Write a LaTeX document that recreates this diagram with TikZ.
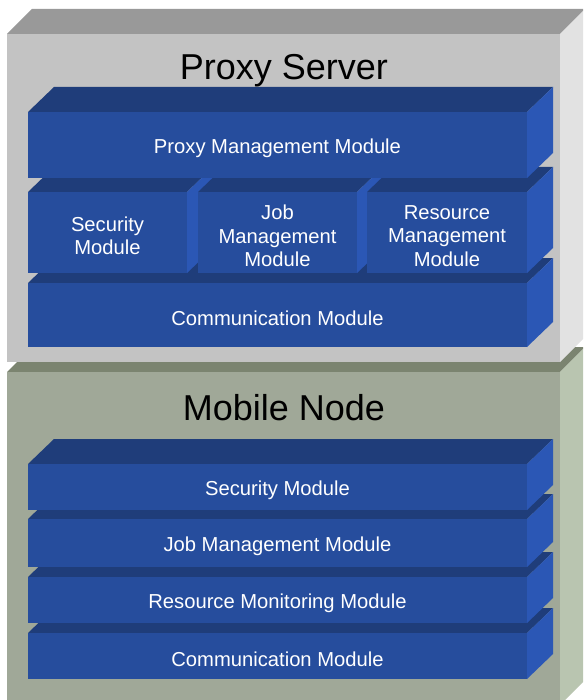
\documentclass[tikz,border=0pt]{standalone}
\usepackage{fontspec}
\setmainfont{Liberation Sans}
\definecolor{blueFront}{HTML}{264D9D}
\definecolor{blueTop}{HTML}{1F3D7A}
\definecolor{blueSide}{HTML}{2B57B5}
\definecolor{psFront}{HTML}{C3C3C3}
\definecolor{psTop}{HTML}{999999}
\definecolor{psSide}{HTML}{E2E2E2}
\definecolor{mnFront}{HTML}{A0A898}
\definecolor{mnTop}{HTML}{7B8470}
\definecolor{mnSide}{HTML}{B9C5B0}
\newcommand{\blk}[6]{%
  \fill[btop] (#2,#3) -- ++(26,-25) -- ({#4+26},{#3-25}) -- (#4,#3) -- cycle;
  \fill[bside] (#4,#3) -- ({#4+26},{#3-25}) -- ({#4+26},{#5-25}) -- (#4,#5) -- cycle;
  \fill[bfront] (#2,#3) rectangle (#4,#5);
  \node[lbl] (#1) at ({(#2+#4)/2},{(#3+#5)/2+3.5}) {#6};
}
\newcommand{\outerbox}[8]{%
  \fill[#6] (#1,#2) -- ++(25,-25) -- ({#3+25},{#2-25}) -- (#3,#2) -- cycle;
  \fill[#7] (#3,#2) -- ({#3+25},{#2-25}) -- ({#3+25},{#4-25}) -- (#3,#4) -- cycle;
  \fill[#5] (#1,#2) rectangle (#3,#4);
  \coordinate (#8) at ({(#1+#3)/2},#2);
}
\begin{document}
\begin{tikzpicture}[x=1pt,y=-1pt,
  btop/.style={fill=blueTop},
  bside/.style={fill=blueSide},
  bfront/.style={fill=blueFront},
  lbl/.style={text=white, font=\fontsize{20.2}{23.5}\selectfont, align=center, inner sep=0pt},
  ttl/.style={font=\fontsize{36}{40}\selectfont, inner sep=0pt, anchor=base}]
\path[use as bounding box, clip] (0,0) rectangle (583,700);

% Mobile Node container
\outerbox{7}{372}{560}{705}{mnFront}{mnTop}{mnSide}{mn}
% Proxy Server container
\outerbox{7}{34}{560}{362}{psFront}{psTop}{psSide}{ps}

% Proxy Server modules (bottom to top)
\blk{pcomm}{28}{283}{527}{347}{Communication Module}
\blk{psec}{28}{192}{187}{273}{Security\\Module}
\blk{pjob}{198}{192}{357}{273}{Job\\Management\\Module}
\blk{pres}{367}{192}{527}{273}{Resource\\Management\\Module}
\blk{pmgmt}{28}{112}{527}{178}{Proxy Management Module}

% Mobile Node modules (bottom to top)
\blk{mcomm}{28}{633}{527}{679}{Communication Module}
\blk{mres}{28}{577}{527}{623}{Resource Monitoring Module}
\blk{mjob}{28}{519}{527}{567}{Job Management Module}
\blk{msec}{28}{464}{527}{510}{Security Module}

% Titles
\node[ttl] (pstitle) at (284,80) {Proxy Server};
\node[ttl] (mntitle) at (284,420) {Mobile Node};
\end{tikzpicture}
\end{document}
